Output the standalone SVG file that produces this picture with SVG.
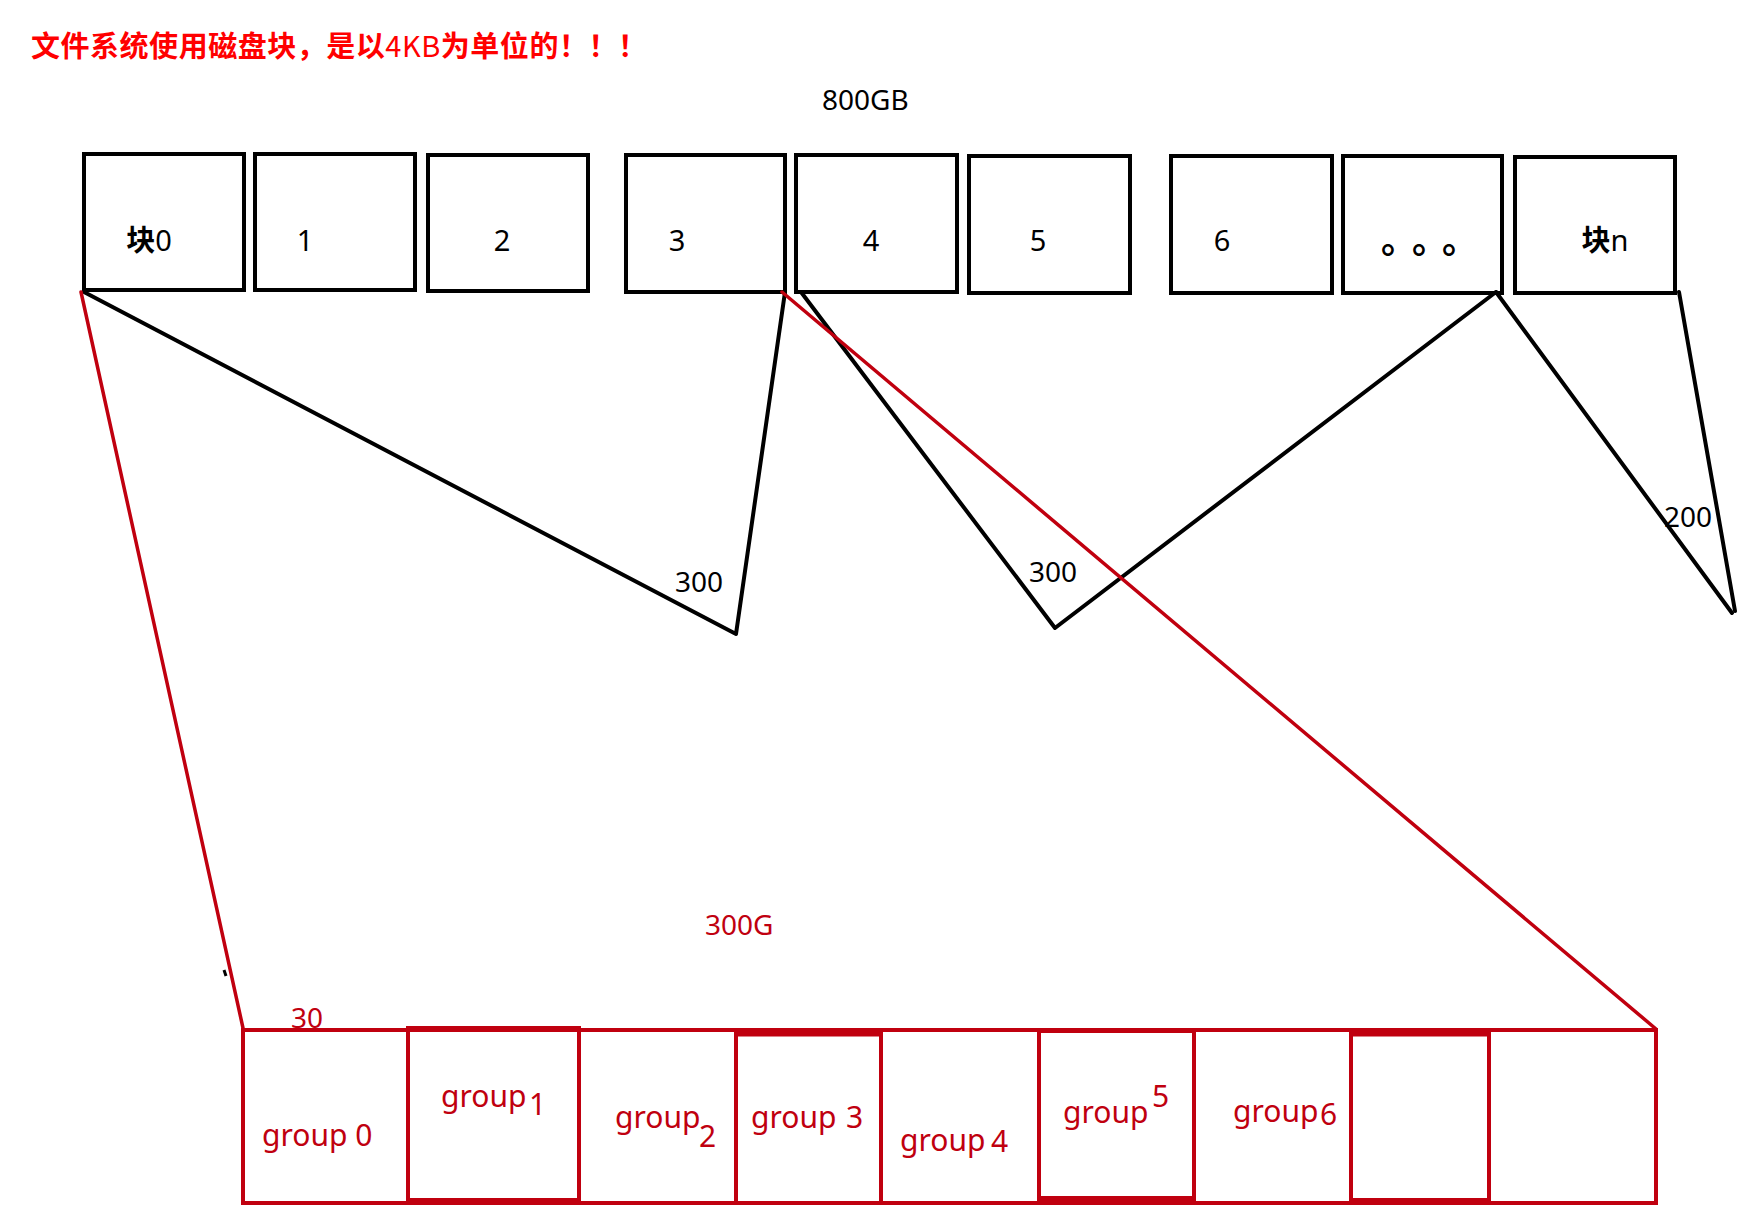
<svg xmlns="http://www.w3.org/2000/svg" width="1749" height="1209" viewBox="0 0 1749 1209">
<style>
.t{font-family:"Noto Sans","Noto Sans CJK SC",sans-serif;}
.cjk{font-family:"Noto Sans CJK SC",sans-serif;}
.blk{fill:#000;font-size:29px;}
.num{fill:#000;font-size:28px;}
.rnum{fill:#c0000f;font-size:28px;}
.red{fill:#c0000f;font-size:30px;}
.box{fill:#fff;stroke:#000;stroke-width:4;}
.cell{fill:none;stroke:#c0000f;stroke-width:4;}
.bl{fill:none;stroke:#000;stroke-width:4;stroke-linecap:round;stroke-linejoin:round;}
.rl{fill:none;stroke:#c0000f;stroke-width:3.5;stroke-linecap:round;}
</style>
<rect width="1749" height="1209" fill="#fff"/>
<text class="cjk" x="31" y="57" font-size="29" font-weight="bold" fill="#ff0000" textLength="616" lengthAdjust="spacing">文件系统使用磁盘块，是以<tspan font-weight="normal">4KB</tspan>为单位的！！！</text>
<text class="t num" x="822" y="110">800GB</text>

<g id="block0"><rect class="box" x="84" y="154" width="160" height="136"/><text class="t blk" x="149" y="251" text-anchor="middle"><tspan font-weight="bold">块</tspan>0</text></g>
<g id="block1"><rect class="box" x="255" y="154" width="160" height="136"/><text class="t blk" x="305" y="251" text-anchor="middle">1</text></g>
<g id="block2"><rect class="box" x="428" y="155" width="160" height="136"/><text class="t blk" x="502" y="251" text-anchor="middle">2</text></g>
<g id="block3"><rect class="box" x="626" y="155" width="159" height="137"/><text class="t blk" x="677" y="251" text-anchor="middle">3</text></g>
<g id="block4"><rect class="box" x="796" y="155" width="161" height="137"/><text class="t blk" x="871" y="251" text-anchor="middle">4</text></g>
<g id="block5"><rect class="box" x="969" y="156" width="161" height="137"/><text class="t blk" x="1038" y="251" text-anchor="middle">5</text></g>
<g id="block6"><rect class="box" x="1171" y="156" width="161" height="137"/><text class="t blk" x="1222" y="251" text-anchor="middle">6</text></g>
<g id="blockdots"><rect class="box" x="1343" y="156" width="159" height="137"/><text class="cjk blk" x="1381 1412 1442" y="253" style="font-size:36px;font-weight:bold">。。。</text></g>
<g id="blockn"><rect class="box" x="1515" y="157" width="160" height="136"/><text class="t blk" x="1605" y="251" text-anchor="middle"><tspan font-weight="bold">块</tspan>n</text></g>

<g id="connectors">
<polyline class="bl" points="84,292 736,634 785,292"/>
<polyline class="bl" points="801,292 1055,628 1496,292"/>
<polyline class="bl" points="1496,292 1732,613"/>
<polyline class="bl" points="1679,292 1735,611"/>
<line class="rl" x1="81" y1="292" x2="243" y2="1028"/>
<line class="rl" x1="782" y1="292" x2="1656" y2="1029"/>
<line x1="224" y1="970" x2="226" y2="976" stroke="#000" stroke-width="3"/>
</g>
<text class="t num" x="675" y="592">300</text>
<text class="t num" x="1029" y="582">300</text>
<text class="t num" x="1664" y="527">200</text>
<text class="t rnum" x="705" y="935">300G</text>
<text class="t rnum" x="291" y="1028">30</text>

<g id="groups-outer"><rect class="cell" x="243" y="1030" width="1413" height="173"/></g>
<g id="group0"><rect class="cell" x="243" y="1030" width="165" height="173"/><text class="t red" x="262" y="1146">group 0</text></g>
<g id="group1"><rect class="cell" x="408" y="1028" width="171" height="172" stroke-width="5"/><text class="t red" x="441" y="1107">group</text><text class="t red" x="529" y="1115">1</text></g>
<g id="group2"><rect class="cell" x="579" y="1030" width="157" height="173"/><text class="t red" x="615" y="1128">group</text><text class="t red" x="699" y="1147">2</text></g>
<g id="group3"><rect class="cell" x="736" y="1033" width="145" height="170"/><line x1="736" y1="1033" x2="881" y2="1033" stroke="#c0000f" stroke-width="7"/><text class="t red" x="751" y="1128">group</text><text class="t red" x="846" y="1128">3</text></g>
<g id="group4"><rect class="cell" x="881" y="1030" width="158" height="173"/><text class="t red" x="900" y="1151">group</text><text class="t red" x="991" y="1152">4</text></g>
<g id="group5"><rect class="cell" x="1039" y="1031" width="155" height="167"/><line x1="1039" y1="1200" x2="1194" y2="1200" stroke="#c0000f" stroke-width="6"/><text class="t red" x="1063" y="1123">group</text><text class="t red" x="1152" y="1107">5</text></g>
<g id="group6"><rect class="cell" x="1194" y="1030" width="157" height="173"/><text class="t red" x="1233" y="1122">group</text><text class="t red" x="1320" y="1125">6</text></g>
<g id="group7"><rect class="cell" x="1351" y="1033" width="138" height="167"/><line x1="1351" y1="1033" x2="1489" y2="1033" stroke="#c0000f" stroke-width="7"/></g>
<g id="group8"><rect class="cell" x="1489" y="1030" width="167" height="173"/></g>
</svg>
